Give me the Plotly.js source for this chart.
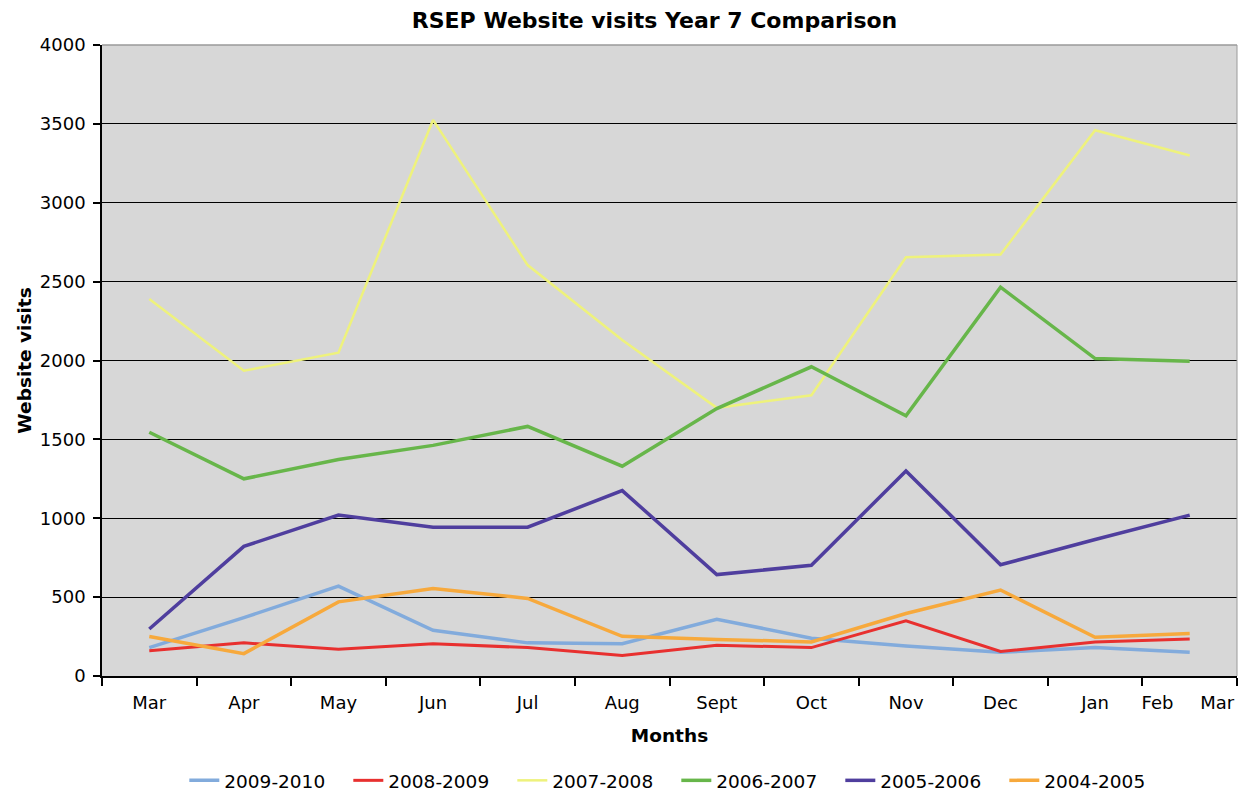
<!DOCTYPE html>
<html>
<head>
<meta charset="utf-8">
<script src="https://cdn.plot.ly/plotly-3.0.1.min.js"></script>
<style>html,body{margin:0;padding:0;background:#fff;}#chart{width:1242px;height:793px;}</style>
</head>
<body>
<div id="chart"></div>
<script>
// Month categories (positions of the data points are the centres of the 12 categories)
const months = ["Mar","Apr","May","Jun","Jul","Aug","Sept","Oct","Nov","Dec","Jan","Feb"];
// Axis tick labels as shown on the reference (last two are squeezed toward the right edge)
const tickLabels = ["Mar","Apr","May","Jun","Jul","Aug","Sept","Oct","Nov","Dec","Jan","Feb","Mar"];
const tickLabelPos = [0.5,1.5,2.5,3.5,4.5,5.5,6.5,7.5,8.5,9.5,10.5,11.16,11.79];

const seriesNames = ["2009-2010","2008-2009","2007-2008","2006-2007","2005-2006","2004-2005"];
const v2009_2010 = [180, 370, 570, 290, 210, 205, 360, 240, 190, 150, 180, 150];
const v2008_2009 = [160, 210, 170, 205, 180, 130, 195, 180, 350, 155, 215, 235];
const v2007_2008 = [2390, 1935, 2050, 3525, 2605, 2130, 1700, 1780, 2655, 2672, 3460, 3300];
const v2006_2007 = [1545, 1250, 1372, 1462, 1582, 1330, 1695, 1960, 1650, 2465, 2012, 1995];
const v2005_2006 = [298, 822, 1020, 943, 943, 1175, 643, 702, 1300, 705, 865, 1020];
const v2004_2005 = [250, 142, 470, 555, 492, 252, 232, 216, 396, 545, 245, 270];

const colors = ["#82abdc","#e8302f","#eef27c","#67b64a","#4f3e9e","#f7a93c"];
const widths = [3.5, 3, 2.5, 3.5, 3.5, 3.5];

const allValues = [v2009_2010, v2008_2009, v2007_2008, v2006_2007, v2005_2006, v2004_2005];
const xPos = months.map((m, i) => i + 0.5);

const traces = allValues.map((vals, k) => ({
  type: "scatter",
  mode: "lines",
  x: xPos,
  y: vals,
  name: seriesNames[k],
  text: months,
  line: {color: colors[k], width: widths[k]},
  hovertemplate: "%{text}: %{y}<extra>" + seriesNames[k] + "</extra>"
}));
// invisible trace to carry the label axis
traces.push({type:"scatter", mode:"lines", x:[0,12], y:[0,0], xaxis:"x2", showlegend:false, hoverinfo:"skip", line:{width:0, color:"rgba(0,0,0,0)"}});

const font = "Verdana, 'DejaVu Sans', sans-serif";

const layout = {
  width: 1242, height: 793,
  paper_bgcolor: "#ffffff",
  plot_bgcolor: "#d7d7d7",
  margin: {l: 102, r: 5, t: 45, b: 117, autoexpand: false},
  font: {family: font, color: "#000", size: 18},
  title: {text: "<b>RSEP Website visits Year 7 Comparison</b>", x: 0.527, xanchor: "center", y: 0.974, yanchor: "middle", font: {family: font, size: 22, color: "#000"}},
  showlegend: true,
  legend: {orientation: "h", x: 0.506, xanchor: "center", y: -0.136, yanchor: "top", font: {family: font, size: 18.5, color: "#000"}, bgcolor: "rgba(0,0,0,0)", traceorder: "normal", itemwidth: 30, entrywidth: 119, entrywidthmode: "pixels"},
  xaxis: {
    range: [0, 12], tickmode: "array", tickvals: [0,1,2,3,4,5,6,7,8,9,10,11,12], ticktext: ["","","","","","","","","","","","",""],
    ticks: "outside", ticklen: 8, tickwidth: 1.5, tickcolor: "#000",
    showline: true, linecolor: "#000", linewidth: 1.5, showgrid: false, zeroline: false,
    fixedrange: true
  },
  xaxis2: {
    overlaying: "x", anchor: "y", side: "bottom", range: [0, 12],
    tickmode: "array", tickvals: tickLabelPos, ticktext: tickLabels,
    ticks: "outside", ticklen: 10, tickcolor: "rgba(0,0,0,0)",
    showline: false, showgrid: false, zeroline: false,
    tickfont: {family: font, size: 18, color: "#000"},
    title: {text: "<b>Months</b>", font: {family: font, size: 18.5, color: "#000"}, standoff: 17}
  },
  yaxis: {
    range: [0, 4000], tickvals: [0,500,1000,1500,2000,2500,3000,3500,4000],
    ticks: "outside", ticklen: 7, tickwidth: 1.5, tickcolor: "#000",
    ticklabelstandoff: 4,
    showline: true, linecolor: "#000", linewidth: 1.5,
    showgrid: true, gridcolor: "#000", gridwidth: 1.2, zeroline: false,
    tickfont: {family: font, size: 18, color: "#000"},
    title: {text: "<b>Website visits</b>", font: {family: font, size: 18.5, color: "#000"}, standoff: 3}
  },
  shapes: [
    {type: "line", xref: "paper", yref: "paper", x0: 0, x1: 1, y0: 1, y1: 1, line: {color: "#9a9a9a", width: 1.5}, layer: "above"},
    {type: "line", xref: "paper", yref: "paper", x0: 1, x1: 1, y0: 0, y1: 1, line: {color: "#9a9a9a", width: 1}, layer: "above"}
  ]
};

Plotly.newPlot("chart", traces, layout, {displayModeBar: false, responsive: false});
</script>
</body>
</html>
